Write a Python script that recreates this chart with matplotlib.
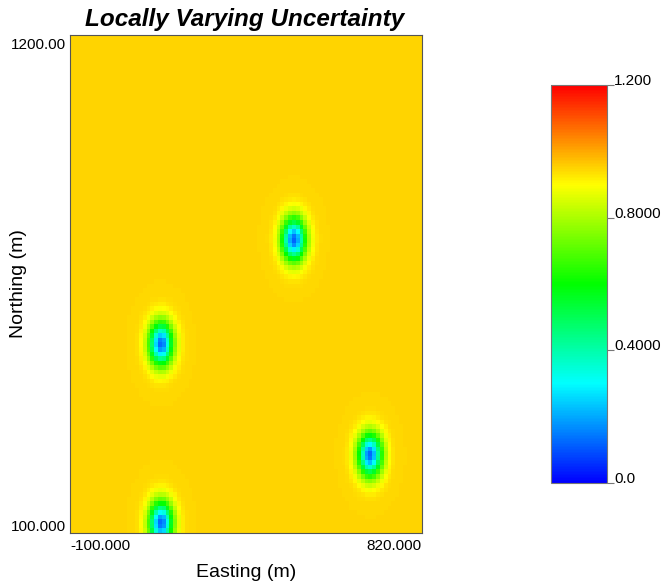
import numpy as np
import matplotlib.pyplot as plt
from matplotlib.colors import ListedColormap, hsv_to_rgb

# sample (well) locations in metres
well_x = [485.0, 138.0, 684.0, 138.0]
well_y = [747.0, 517.0, 272.0, 122.0]

# variance model
sill = 0.947
nugget = 0.12
range_x = 31.0
range_y = 47.0

# grid: 10 m cells
xmin, xmax = -100.0, 820.0
ymin, ymax = 100.0, 1200.0
cell = 10.0
vmin, vmax = 0.0, 1.2

xc = np.arange(xmin + cell / 2, xmax, cell)
yc = np.arange(ymin + cell / 2, ymax, cell)
gx, gy = np.meshgrid(xc, yc)

var = np.full(gx.shape, sill)
for wx, wy in zip(well_x, well_y):
    r2 = ((gx - wx) / range_x) ** 2 + ((gy - wy) / range_y) ** 2
    v = sill - (sill - nugget) * np.exp(-r2)
    var = np.minimum(var, v)

# GSLIB-like rainbow: hue 240 -> 0 deg
t = np.linspace(0, 1, 256)
hsv = np.stack([(1 - t) * 240 / 360, np.ones_like(t), np.ones_like(t)], axis=1)
cmap = ListedColormap(hsv_to_rgb(hsv))

plt.rcParams['font.family'] = ['Liberation Sans', 'DejaVu Sans']
fig = plt.figure(figsize=(6.7, 5.88), dpi=100)
ax = fig.add_axes([70 / 670, 1 - 533 / 588, 352 / 670, 498 / 588])
im = ax.imshow(var, origin='lower', extent=[xmin, xmax, ymin, ymax], cmap=cmap,
               vmin=vmin, vmax=vmax, interpolation='nearest', aspect='auto')
ax.set_xlim(xmin, xmax)
ax.set_ylim(ymin, ymax)
ax.set_xticks([])
ax.set_yticks([])
for s in ax.spines.values():
    s.set_color('#555555')
    s.set_linewidth(0.8)

ax.text(0, -0.012, '-100.000', transform=ax.transAxes, ha='left', va='top', fontsize=11)
ax.text(1, -0.012, '820.000', transform=ax.transAxes, ha='right', va='top', fontsize=11)
ax.text(-0.01, 0.979, '1200.00', transform=ax.transAxes, ha='right', va='center', fontsize=11)
ax.text(-0.01, 0.013, '100.000', transform=ax.transAxes, ha='right', va='center', fontsize=11)
ax.text(0.5, -0.08, 'Easting (m)', transform=ax.transAxes, ha='center', va='center', fontsize=14)
ax.text(-0.145, 0.5, 'Northing (m)', transform=ax.transAxes, ha='center', va='center',
        rotation=90, fontsize=14)
ax.text(0.495, 1.032, 'Locally Varying Uncertainty', transform=ax.transAxes, ha='center',
        va='center', fontsize=17.5, fontweight='bold', fontstyle='italic')

cax = fig.add_axes([551 / 670, 1 - 483 / 588, 56 / 670, 398 / 588])
cb = fig.colorbar(im, cax=cax)
cb.set_ticks([0.0, 0.4, 0.8, 1.2])
cb.set_ticklabels(['0.0', '0.4000', '0.8000', '1.200'])
cb.outline.set_edgecolor('#777777')
cb.outline.set_linewidth(0.8)
cax.tick_params(length=5, width=0.8, color='#777777', labelsize=11, pad=0)
for lab in cax.get_yticklabels():
    lab.set_verticalalignment('baseline')

fig.savefig('out.png', dpi=100)
